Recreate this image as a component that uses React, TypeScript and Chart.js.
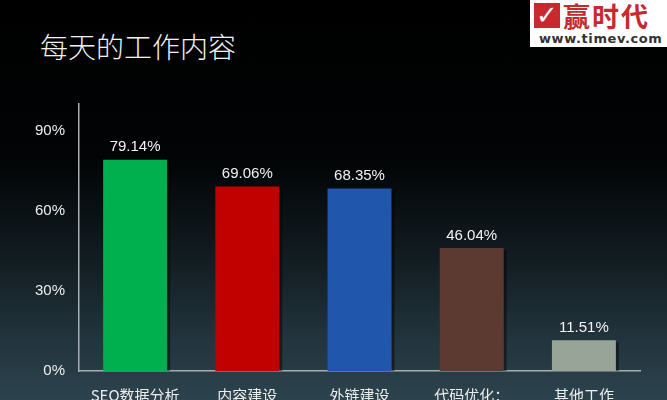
import React, { useEffect, useRef } from "react";
import { Chart, registerables } from "chart.js";

Chart.register(...registerables);

const categories = ["SEO数据分析", "内容建设", "外链建设", "代码优化：", "其他工作"];
const values = [79.14, 69.06, 68.35, 46.04, 11.51];
const barColors = ["#00b04f", "#c10000", "#2156ad", "#5c3931", "#97a497"];
const yTicks = [0, 30, 60, 90];

const valueLabels = {
  id: "valueLabels",
  afterDatasetsDraw(chart: any) {
    const ctx = chart.ctx;
    const meta = chart.getDatasetMeta(0);
    ctx.save();
    ctx.fillStyle = "#f2f2f2";
    ctx.font = "15px 'Liberation Sans', Arial, sans-serif";
    ctx.textAlign = "center";
    ctx.textBaseline = "bottom";
    meta.data.forEach((bar: any, i: number) => {
      ctx.fillText(values[i].toFixed(2) + "%", bar.x, bar.y - 5);
    });
    ctx.restore();
  },
};

const barShadow = {
  id: "barShadow",
  beforeDatasetsDraw(chart: any) {
    const ctx = chart.ctx;
    const meta = chart.getDatasetMeta(0);
    ctx.save();
    ctx.fillStyle = "rgba(0,0,0,0.45)";
    meta.data.forEach((bar: any) => {
      const w = bar.width;
      ctx.fillRect(bar.x + w / 2, bar.y + 2, 3, bar.base - bar.y - 2);
    });
    ctx.restore();
  },
};

export default function App() {
  const ref = useRef<HTMLCanvasElement>(null);
  useEffect(() => {
    document.body.style.margin = "0";
    const chart = new Chart(ref.current!, {
      type: "bar",
      data: {
        labels: categories,
        datasets: [
          {
            data: values,
            backgroundColor: barColors,
            borderWidth: 0,
            categoryPercentage: 1,
            barPercentage: 0.57,
          },
        ],
      },
      options: {
        animation: false,
        responsive: false,
        events: [],
        layout: { padding: { top: 104, right: 27, left: 0, bottom: 0 } },
        plugins: { legend: { display: false }, tooltip: { enabled: false } },
        scales: {
          x: {
            grid: { display: false, drawTicks: false },
            border: { color: "#a9adb0", width: 1.5 },
            ticks: {
              color: "#eeeeee",
              padding: 15,
              font: { size: 15, family: "'Noto Sans CJK SC', 'Liberation Sans', sans-serif" },
            },
            afterFit(scale: any) {
              scale.height = 49;
            },
          },
          y: {
            min: 0,
            max: 100,
            grid: { display: false, drawTicks: false },
            border: { color: "#a9adb0", width: 1.5 },
            afterBuildTicks(scale: any) {
              scale.ticks = yTicks.map((v) => ({ value: v }));
            },
            ticks: {
              color: "#eeeeee",
              padding: 14,
              font: { size: 15, family: "'Liberation Sans', Arial, sans-serif" },
              callback: (v: any) => v + "%",
            },
            afterFit(scale: any) {
              scale.width = 79;
            },
          },
        },
      },
      plugins: [barShadow, valueLabels],
    });
    return () => chart.destroy();
  }, []);

  return (
    <div
      style={{
        position: "relative",
        width: 667,
        height: 400,
        overflow: "hidden",
        background:
          "linear-gradient(to bottom, #000000 0%, #020405 40%, #121d22 65%, #22343d 85%, #2c434d 100%)",
      }}
    >
      <div
        style={{
          position: "absolute",
          left: 40,
          top: 26,
          color: "#f1f1ee",
          fontSize: 28,
          fontFamily: "'Noto Sans CJK SC', sans-serif",
          fontWeight: 300,
          lineHeight: "40px",
          letterSpacing: 0,
        }}
      >
        每天的工作内容
      </div>
      <div
        style={{
          position: "absolute",
          left: 530,
          top: 0,
          width: 137,
          height: 47,
          background: "#ffffff",
        }}
      >
        <div
          style={{
            position: "absolute",
            left: 4,
            top: 3,
            width: 26,
            height: 25,
            background: "#c8292e",
            color: "#ffffff",
            fontSize: 26,
            lineHeight: "25px",
            textAlign: "center",
            fontWeight: "bold",
            fontFamily: "'DejaVu Sans', sans-serif",
          }}
        >
          ✓
        </div>
        <div
          style={{
            position: "absolute",
            left: 33,
            top: 0,
            color: "#c8292e",
            fontSize: 27,
            lineHeight: "32px",
            fontWeight: "bold",
            fontFamily: "'Noto Sans CJK SC', sans-serif",
            letterSpacing: 2,
          }}
        >
          赢时代
        </div>
        <div
          style={{
            position: "absolute",
            left: 9,
            top: 31,
            color: "#333333",
            fontSize: 13,
            lineHeight: "15px",
            fontWeight: "bold",
            fontFamily: "'DejaVu Sans', sans-serif",
            letterSpacing: 0.6,
          }}
        >
          www.timev.com
        </div>
      </div>
      <canvas
        ref={ref}
        width={667}
        height={420}
        style={{ position: "absolute", left: 0, top: 0, width: 667, height: 420 }}
      />
    </div>
  );
}
